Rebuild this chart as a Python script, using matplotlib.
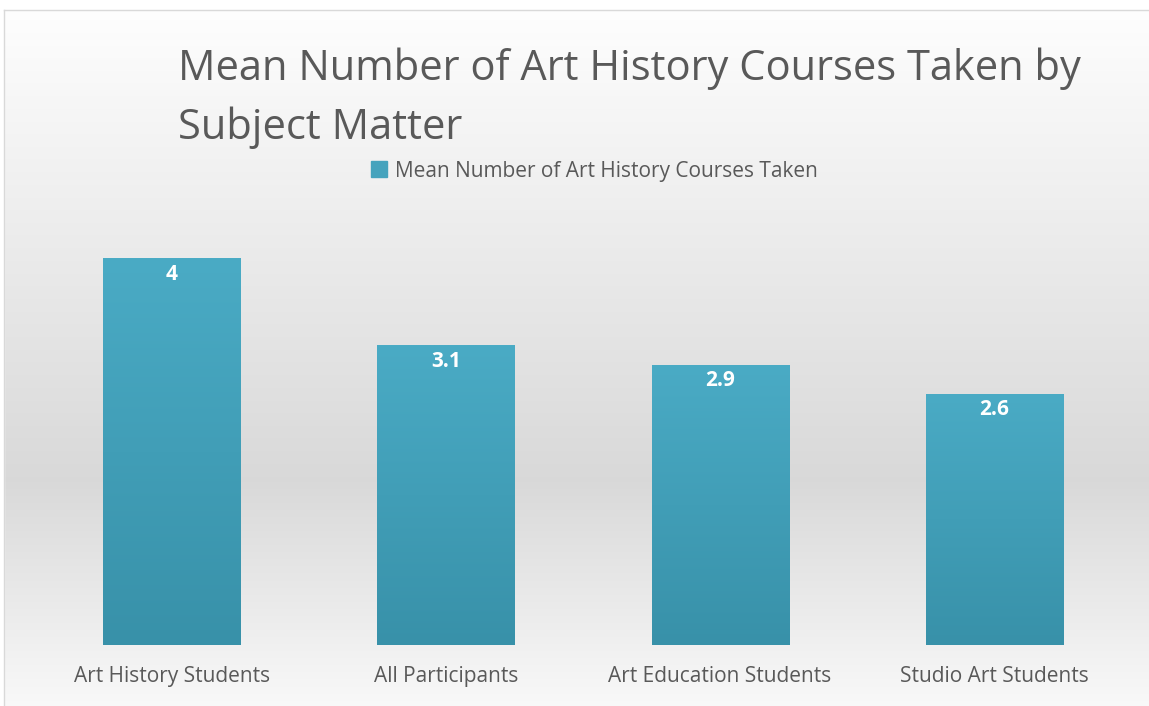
import numpy as np
import matplotlib
matplotlib.use('Agg')
import matplotlib.pyplot as plt
from matplotlib.colors import LinearSegmentedColormap

# data
groups = ['Art History Students', 'All Participants', 'Art Education Students', 'Studio Art Students']
means = [4, 3.1, 2.9, 2.6]
series_name = 'Mean Number of Art History Courses Taken'
title_lines = ['Mean Number of Art History Courses Taken by', 'Subject Matter']

W, H = 1149, 706
plt.rcParams['font.family'] = ['Open Sans', 'DejaVu Sans']
text_grey = '#595959'

fig = plt.figure(figsize=(W / 100, H / 100), dpi=100)

# background gradient: white -> grey (around y=480px) -> near white
bg = fig.add_axes([0, 0, 1, 1], zorder=-5)
ys = np.linspace(0, 1, 400)  # 0 = top
grey = np.interp(ys, [0, 10 / H, 480 / H, 1], [1.0, 0.995, 0.85, 0.975])
img = np.dstack([grey, grey, grey]).reshape(400, 1, 3)
bg.imshow(img, aspect='auto', extent=[0, W, H, 0])
bg.set_xlim(0, W)
bg.set_ylim(H, 0)
bg.fill_between([0, W], 0, 10, color='white')
bg.fill_between([0, 4], 0, H, color='white')
bg.plot([4, 4], [10, H], color='#d9d9d9', lw=1)
bg.plot([4, W], [10, 10], color='#d9d9d9', lw=1)
bg.axis('off')

# bars
ax = fig.add_axes([34.5 / W, (H - 645) / H, 1097 / W, 435 / H])
ax.set_facecolor('none')
x = np.arange(len(groups))
bars = ax.bar(x, means, width=0.5, color='#45a3bd', zorder=2)
ax.set_xlim(-0.5, 3.5)
ax.set_ylim(0, 4.5)

bar_cmap = LinearSegmentedColormap.from_list('bar', ['#3891a9', '#4aabc5'])
grad = np.linspace(0, 1, 256).reshape(-1, 1)
for b in bars:
    bx, by = b.get_x(), b.get_y()
    im = ax.imshow(grad, cmap=bar_cmap, origin='lower', aspect='auto',
                   extent=[bx, bx + b.get_width(), by, by + b.get_height()], zorder=3)
    im.set_clip_path(b)

for xi, v in zip(x, means):
    ax.text(xi, v - 0.06, '{:g}'.format(v), ha='center', va='top', color='white',
            fontsize=15, fontweight='bold', zorder=4)

for s in ax.spines.values():
    s.set_visible(False)
ax.set_yticks([])
ax.set_xticks(x)
ax.set_xticklabels(groups, color=text_grey, fontsize=15)
ax.tick_params(axis='x', length=0, pad=15)
ax.set_aspect('auto')

# title
fig.text(178 / W, 1 - 80 / H, title_lines[0], color=text_grey, fontsize=30, va='baseline')
fig.text(178 / W, 1 - 139 / H, title_lines[1], color=text_grey, fontsize=30, va='baseline')

# legend
fig.patches.append(plt.Rectangle((371 / W, 1 - 177 / H), 16 / W, 16 / H,
                                 transform=fig.transFigure, color='#45a3bd'))
fig.text(395 / W, 1 - 177 / H, series_name, color=text_grey, fontsize=15, va='baseline')

fig.savefig('out.png', dpi=100)
